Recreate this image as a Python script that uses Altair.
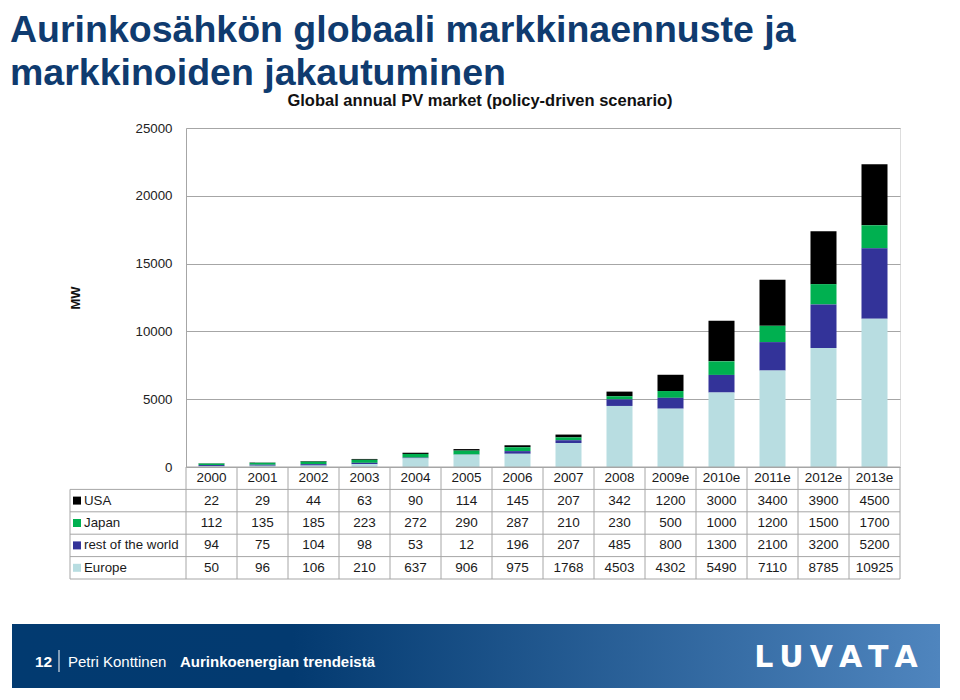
import altair as alt
import pandas as pd

years = ["2000", "2001", "2002", "2003", "2004", "2005", "2006", "2007",
         "2008", "2009e", "2010e", "2011e", "2012e", "2013e"]
usa = [22, 29, 44, 63, 90, 114, 145, 207, 342, 1200, 3000, 3400, 3900, 4500]
japan = [112, 135, 185, 223, 272, 290, 287, 210, 230, 500, 1000, 1200, 1500, 1700]
rest_world = [94, 75, 104, 98, 53, 12, 196, 207, 485, 800, 1300, 2100, 3200, 5200]
europe = [50, 96, 106, 210, 637, 906, 975, 1768, 4503, 4302, 5490, 7110, 8785, 10925]

series_names = ["USA", "Japan", "rest of the world", "Europe"]
series_values = [usa, japan, rest_world, europe]
series_colors = ["#000000", "#00b050", "#333399", "#b8dde1"]
stack_rank = [3, 2, 1, 0]  # Europe at the bottom, USA on top
y_ticks = [0, 5000, 10000, 15000, 20000, 25000]
table_rows = ["header"] + series_names

title_line1 = "Aurinkosähkön globaali markkinaennuste ja"
title_line2 = "markkinoiden jakautuminen"
chart_title = "Global annual PV market (policy-driven scenario)"
y_title = "MW"

W, H = 714, 339
GRID = "#a6a6a6"
ROW_H = 22.4

rows = []
for name, vals, rank in zip(series_names, series_values, stack_rank):
    for yr, v in zip(years, vals):
        rows.append({"year": yr, "series": name, "value": v, "rank": rank})
bars_df = pd.DataFrame(rows)

tab = []
for yr in years:
    tab.append({"year": yr, "row": "header", "label": yr})
for name, vals in zip(series_names, series_values):
    for yr, v in zip(years, vals):
        tab.append({"year": yr, "row": name, "label": str(v)})
table_df = pd.DataFrame(tab)
rowlab_df = pd.DataFrame({"row": series_names})
hline_df = pd.DataFrame({"row": series_names})
years_df = pd.DataFrame({"year": years})
one = pd.DataFrame({"k": [0]})

xs = alt.Scale(domain=years, paddingInner=0, paddingOuter=0)
cs = alt.Scale(domain=series_names, range=series_colors)
ts = alt.Scale(domain=table_rows, range=[H, H + 5 * ROW_H], paddingInner=0, paddingOuter=0)

bars = alt.Chart(bars_df).mark_bar(width=alt.RelativeBandSize(0.51)).encode(
    x=alt.X("year:N", scale=xs, axis=None, sort=years),
    y=alt.Y("value:Q", stack="zero",
            scale=alt.Scale(domain=[0, 25000], nice=False),
            axis=alt.Axis(values=y_ticks, format="d", grid=True, gridColor=GRID, domain=True,
                          domainColor=GRID, ticks=False, labelFontSize=13.3,
                          labelPadding=14, labelColor="#222222", title=y_title,
                          titleFontSize=13, titleFontWeight="bold", titleColor="#111111",
                          titlePadding=53)),
    color=alt.Color("series:N", scale=cs, legend=None),
    order=alt.Order("rank:Q", sort="ascending"),
)

table_text = alt.Chart(table_df).mark_text(fontSize=13.5, color="#1a1a1a").encode(
    x=alt.X("year:N", scale=xs, axis=None, sort=years),
    y=alt.Y("row:N", scale=ts, axis=None),
    text="label:N",
)

row_labels = alt.Chart(rowlab_df).mark_text(fontSize=13.3, color="#1a1a1a", align="left").encode(
    x=alt.value(-102),
    y=alt.Y("row:N", scale=ts, axis=None),
    text="row:N",
)

row_squares = alt.Chart(rowlab_df).mark_square(size=64, opacity=1).encode(
    x=alt.value(-109),
    y=alt.Y("row:N", scale=ts, axis=None),
    color=alt.Color("row:N", scale=cs, legend=None),
)

hlines = alt.Chart(hline_df).mark_rule(color=GRID, strokeWidth=1).encode(
    y=alt.Y("row:N", scale=ts, axis=None, bandPosition=0),
    x=alt.value(-116), x2=alt.value(W),
)
hline_bottom = alt.Chart(pd.DataFrame({"row": ["Europe"]})).mark_rule(color=GRID).encode(
    y=alt.Y("row:N", scale=ts, axis=None, bandPosition=1),
    x=alt.value(-116), x2=alt.value(W),
)
hline_top = alt.Chart(pd.DataFrame({"row": ["header"]})).mark_rule(color=GRID).encode(
    y=alt.Y("row:N", scale=ts, axis=None, bandPosition=0),
    x=alt.value(0), x2=alt.value(W),
)
vlines = alt.Chart(years_df).mark_rule(color=GRID).encode(
    x=alt.X("year:N", scale=xs, axis=None, sort=years, bandPosition=0),
    y=alt.value(H), y2=alt.value(H + 5 * ROW_H),
)
vline_right = alt.Chart(one).mark_rule(color=GRID).encode(
    x=alt.value(W), y=alt.value(H), y2=alt.value(H + 5 * ROW_H))
vline_left = alt.Chart(one).mark_rule(color=GRID).encode(
    x=alt.value(-116), y=alt.value(H + ROW_H), y2=alt.value(H + 5 * ROW_H))


def label(text, x, y, size, color="#000000", weight="normal", align="left", font="Liberation Sans"):
    return alt.Chart(one).mark_text(text=text, fontSize=size, color=color, fontWeight=weight,
                                    align=align, baseline="alphabetic", font=font).encode(
        x=alt.value(x), y=alt.value(y))


TITLE_COLOR = "#0f3b6f"
t1 = label(title_line1, -176, -86, 37.5, TITLE_COLOR, "bold")
t2 = label(title_line2, -176, -43, 37.5, TITLE_COLOR, "bold")
sub = label(chart_title, 294, -22, 16.5, "#111111", "bold", align="center")

footer = alt.Chart(one).mark_rect(
    color=alt.LinearGradient(
        gradient="linear", x1=0, x2=1, y1=0, y2=0,
        stops=[alt.GradientStop(offset=0, color="#023a70"),
               alt.GradientStop(offset=0.3, color="#033a70"),
               alt.GradientStop(offset=1, color="#5086bf")])
).encode(x=alt.value(-174), x2=alt.value(762), y=alt.value(496), y2=alt.value(560))

f1 = label("12", -151, 539, 15.5, "#ffffff", "bold")
fsep = alt.Chart(one).mark_rule(color="#ffffff", strokeWidth=1).encode(
    x=alt.value(-127), y=alt.value(522), y2=alt.value(544))
f2 = label("Petri Konttinen", -118, 539, 15, "#ffffff", "normal")
f3 = label("Aurinkoenergian trendeistä", -6, 539, 15, "#ffffff", "bold")
logo = label("L\u2009U\u2009V\u2009A\u2009T\u2009A", 650, 539, 30, "#ffffff", "bold",
             align="center", font="DejaVu Sans")

chart = alt.layer(
    bars, hlines, hline_bottom, hline_top, vlines, vline_right, vline_left,
    table_text, row_labels, row_squares,
    t1, t2, sub, footer, f1, fsep, f2, f3, logo,
).resolve_scale(y="independent").properties(
    width=W, height=H,
    autosize=alt.AutoSizeParams(type="none"),
    padding={"left": 178, "top": 120, "right": 40, "bottom": 225},
).configure_view(stroke=None).configure(font="Liberation Sans")

chart.save("out.html", embed_options={"renderer": "svg", "actions": False})
